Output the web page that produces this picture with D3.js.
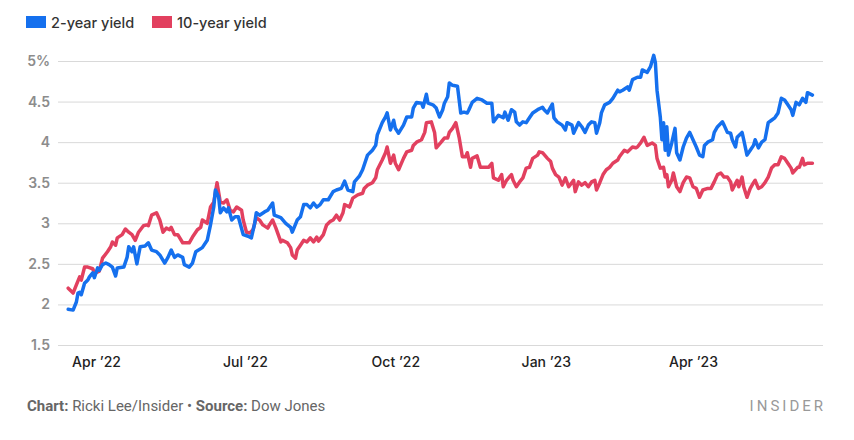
<!DOCTYPE html>
<html><head><meta charset="utf-8">
<script src="https://cdn.jsdelivr.net/npm/d3@7"></script>
<style>body{margin:0;background:#fff}svg{display:block}</style>
</head><body>
<svg id="chart" width="854" height="440"></svg>
<script>
const dates2y = ["2022-03-15","2022-03-18","2022-03-20","2022-03-21","2022-03-22","2022-03-23","2022-03-25","2022-03-27","2022-03-28","2022-03-30","2022-03-31","2022-04-02","2022-04-03","2022-04-05","2022-04-07","2022-04-09","2022-04-11","2022-04-13","2022-04-14","2022-04-18","2022-04-20","2022-04-21","2022-04-23","2022-04-24","2022-04-26","2022-04-28","2022-05-01","2022-05-03","2022-05-05","2022-05-08","2022-05-10","2022-05-13","2022-05-15","2022-05-17","2022-05-19","2022-05-21","2022-05-24","2022-05-25","2022-05-28","2022-05-30","2022-06-01","2022-06-05","2022-06-08","2022-06-10","2022-06-12","2022-06-13","2022-06-15","2022-06-16","2022-06-18","2022-06-20","2022-06-21","2022-06-23","2022-06-25","2022-06-27","2022-06-30","2022-07-03","2022-07-05","2022-07-07","2022-07-08","2022-07-10","2022-07-13","2022-07-15","2022-07-18","2022-07-19","2022-07-23","2022-07-26","2022-07-29","2022-07-30","2022-08-02","2022-08-04","2022-08-06","2022-08-08","2022-08-10","2022-08-12","2022-08-14","2022-08-16","2022-08-18","2022-08-21","2022-08-24","2022-08-26","2022-08-29","2022-08-31","2022-09-02","2022-09-05","2022-09-06","2022-09-09","2022-09-11","2022-09-14","2022-09-17","2022-09-19","2022-09-20","2022-09-23","2022-09-25","2022-09-26","2022-09-28","2022-09-30","2022-10-01","2022-10-03","2022-10-06","2022-10-08","2022-10-11","2022-10-12","2022-10-14","2022-10-17","2022-10-18","2022-10-20","2022-10-21","2022-10-24","2022-10-26","2022-10-28","2022-10-30","2022-10-31","2022-11-02","2022-11-03","2022-11-05","2022-11-08","2022-11-10","2022-11-12","2022-11-14","2022-11-15","2022-11-17","2022-11-20","2022-11-23","2022-11-26","2022-11-29","2022-11-30","2022-12-03","2022-12-06","2022-12-07","2022-12-09","2022-12-11","2022-12-13","2022-12-14","2022-12-16","2022-12-18","2022-12-20","2022-12-22","2022-12-24","2022-12-27","2022-12-30","2022-12-31","2023-01-02","2023-01-05","2023-01-06","2023-01-08","2023-01-11","2023-01-13","2023-01-14","2023-01-17","2023-01-18","2023-01-21","2023-01-23","2023-01-25","2023-01-27","2023-01-29","2023-01-31","2023-02-01","2023-02-03","2023-02-04","2023-02-06","2023-02-09","2023-02-11","2023-02-14","2023-02-15","2023-02-17","2023-02-20","2023-02-21","2023-02-23","2023-02-26","2023-02-28","2023-03-01","2023-03-04","2023-03-06","2023-03-08","2023-03-09","2023-03-10","2023-03-12","2023-03-13","2023-03-14","2023-03-15","2023-03-16","2023-03-17","2023-03-19","2023-03-21","2023-03-22","2023-03-24","2023-03-26","2023-03-28","2023-03-30","2023-04-01","2023-04-03","2023-04-05","2023-04-07","2023-04-08","2023-04-10","2023-04-13","2023-04-14","2023-04-16","2023-04-19","2023-04-20","2023-04-22","2023-04-24","2023-04-25","2023-04-27","2023-04-28","2023-05-01","2023-05-02","2023-05-04","2023-05-06","2023-05-08","2023-05-09","2023-05-11","2023-05-13","2023-05-15","2023-05-17","2023-05-19","2023-05-21","2023-05-23","2023-05-25","2023-05-27","2023-05-29","2023-05-31","2023-06-01","2023-06-03","2023-06-05","2023-06-07","2023-06-09","2023-06-10","2023-06-13"];
const yield2y = [1.94,1.93,2.03,2.14,2.15,2.12,2.26,2.30,2.34,2.39,2.33,2.45,2.42,2.49,2.51,2.49,2.46,2.35,2.45,2.46,2.58,2.71,2.65,2.71,2.50,2.71,2.72,2.76,2.67,2.65,2.61,2.51,2.58,2.67,2.58,2.61,2.58,2.49,2.46,2.51,2.65,2.70,2.79,2.98,3.20,3.41,3.32,3.13,3.19,3.14,3.19,3.04,3.08,3.08,2.86,2.84,2.82,3.00,3.13,3.10,3.14,3.16,3.25,3.10,3.07,3.00,2.95,2.89,3.04,3.08,3.23,3.23,3.19,3.25,3.20,3.23,3.29,3.29,3.39,3.41,3.43,3.52,3.41,3.39,3.51,3.58,3.66,3.84,3.90,3.96,4.09,4.24,4.31,4.36,4.15,4.27,4.17,4.11,4.21,4.31,4.31,4.42,4.49,4.48,4.43,4.59,4.48,4.46,4.42,4.31,4.40,4.48,4.56,4.73,4.70,4.69,4.36,4.37,4.36,4.40,4.49,4.54,4.52,4.48,4.48,4.25,4.33,4.30,4.37,4.27,4.40,4.37,4.25,4.21,4.25,4.24,4.30,4.36,4.40,4.43,4.40,4.36,4.47,4.30,4.25,4.21,4.15,4.24,4.21,4.11,4.24,4.19,4.12,4.21,4.25,4.24,4.11,4.24,4.36,4.46,4.49,4.54,4.64,4.62,4.64,4.68,4.64,4.77,4.80,4.80,4.89,4.86,4.93,5.07,4.98,4.64,4.31,4.03,4.24,3.90,4.19,3.84,3.99,4.17,3.87,3.78,3.94,4.05,4.12,4.03,3.94,3.84,3.82,3.96,4.00,4.03,4.12,4.19,4.25,4.21,4.12,4.11,4.03,3.94,4.06,4.12,4.03,3.84,3.90,3.96,4.03,3.93,4.00,4.03,4.24,4.27,4.30,4.36,4.54,4.52,4.46,4.40,4.33,4.49,4.46,4.54,4.49,4.61,4.58];

const dates10y = ["2022-03-15","2022-03-18","2022-03-20","2022-03-22","2022-03-23","2022-03-25","2022-03-27","2022-03-30","2022-03-31","2022-04-02","2022-04-03","2022-04-05","2022-04-08","2022-04-10","2022-04-11","2022-04-13","2022-04-14","2022-04-17","2022-04-19","2022-04-21","2022-04-23","2022-04-25","2022-04-27","2022-04-30","2022-05-02","2022-05-03","2022-05-05","2022-05-08","2022-05-10","2022-05-12","2022-05-14","2022-05-16","2022-05-17","2022-05-19","2022-05-21","2022-05-24","2022-05-27","2022-05-28","2022-05-30","2022-06-02","2022-06-04","2022-06-05","2022-06-08","2022-06-10","2022-06-12","2022-06-14","2022-06-16","2022-06-18","2022-06-20","2022-06-22","2022-06-24","2022-06-26","2022-06-29","2022-06-30","2022-07-02","2022-07-04","2022-07-06","2022-07-08","2022-07-10","2022-07-12","2022-07-15","2022-07-16","2022-07-18","2022-07-20","2022-07-23","2022-07-24","2022-07-27","2022-07-29","2022-07-30","2022-08-01","2022-08-02","2022-08-04","2022-08-06","2022-08-08","2022-08-10","2022-08-12","2022-08-14","2022-08-15","2022-08-18","2022-08-20","2022-08-22","2022-08-24","2022-08-26","2022-08-28","2022-08-30","2022-08-31","2022-09-03","2022-09-05","2022-09-08","2022-09-11","2022-09-12","2022-09-14","2022-09-17","2022-09-19","2022-09-20","2022-09-23","2022-09-25","2022-09-26","2022-09-28","2022-09-30","2022-10-01","2022-10-03","2022-10-06","2022-10-08","2022-10-11","2022-10-12","2022-10-14","2022-10-17","2022-10-19","2022-10-20","2022-10-23","2022-10-25","2022-10-26","2022-10-29","2022-10-31","2022-11-02","2022-11-03","2022-11-05","2022-11-07","2022-11-09","2022-11-11","2022-11-13","2022-11-14","2022-11-16","2022-11-17","2022-11-20","2022-11-22","2022-11-24","2022-11-27","2022-11-29","2022-11-30","2022-12-03","2022-12-05","2022-12-06","2022-12-08","2022-12-11","2022-12-12","2022-12-14","2022-12-16","2022-12-18","2022-12-20","2022-12-22","2022-12-24","2022-12-27","2022-12-28","2022-12-30","2023-01-02","2023-01-04","2023-01-05","2023-01-07","2023-01-09","2023-01-11","2023-01-13","2023-01-15","2023-01-18","2023-01-19","2023-01-21","2023-01-23","2023-01-25","2023-01-27","2023-01-29","2023-01-31","2023-02-01","2023-02-03","2023-02-05","2023-02-07","2023-02-09","2023-02-11","2023-02-14","2023-02-15","2023-02-18","2023-02-20","2023-02-23","2023-02-25","2023-02-26","2023-02-28","2023-03-02","2023-03-04","2023-03-07","2023-03-09","2023-03-10","2023-03-12","2023-03-14","2023-03-15","2023-03-16","2023-03-17","2023-03-19","2023-03-20","2023-03-22","2023-03-24","2023-03-26","2023-03-28","2023-03-30","2023-04-01","2023-04-03","2023-04-05","2023-04-07","2023-04-10","2023-04-12","2023-04-14","2023-04-16","2023-04-18","2023-04-20","2023-04-22","2023-04-24","2023-04-25","2023-04-28","2023-04-29","2023-05-01","2023-05-02","2023-05-04","2023-05-06","2023-05-08","2023-05-09","2023-05-11","2023-05-13","2023-05-15","2023-05-17","2023-05-19","2023-05-21","2023-05-23","2023-05-25","2023-05-27","2023-05-29","2023-05-31","2023-06-01","2023-06-04","2023-06-05","2023-06-07","2023-06-08","2023-06-10","2023-06-13"];
const yield10y = [2.20,2.14,2.24,2.34,2.30,2.46,2.46,2.44,2.39,2.40,2.41,2.57,2.65,2.71,2.77,2.73,2.82,2.86,2.93,2.89,2.86,2.79,2.89,2.97,2.98,2.97,3.10,3.13,3.04,2.89,2.94,2.92,2.95,2.86,2.86,2.76,2.76,2.76,2.83,2.92,2.95,3.04,3.00,3.20,3.26,3.50,3.26,3.25,3.29,3.16,3.14,3.20,3.16,3.04,2.89,2.88,2.92,3.07,3.04,2.98,2.94,2.98,3.04,2.94,2.77,2.79,2.76,2.70,2.61,2.57,2.67,2.73,2.79,2.77,2.82,2.77,2.83,2.78,2.86,2.98,3.02,3.04,3.10,3.04,3.13,3.23,3.20,3.31,3.35,3.37,3.43,3.47,3.50,3.56,3.66,3.78,3.87,3.94,3.74,3.84,3.74,3.66,3.80,3.88,3.90,3.96,4.00,4.03,4.12,4.24,4.25,4.12,3.93,4.00,4.05,4.05,4.12,4.17,4.24,4.06,3.82,3.82,3.87,3.69,3.80,3.83,3.69,3.69,3.69,3.74,3.56,3.53,3.60,3.45,3.53,3.60,3.53,3.45,3.51,3.56,3.68,3.69,3.80,3.84,3.88,3.87,3.80,3.76,3.68,3.60,3.57,3.47,3.56,3.45,3.53,3.39,3.51,3.47,3.50,3.45,3.51,3.53,3.41,3.50,3.60,3.66,3.69,3.74,3.78,3.82,3.90,3.88,3.94,3.93,3.94,3.99,4.06,3.96,3.99,3.96,3.80,3.68,3.69,3.57,3.60,3.45,3.53,3.62,3.45,3.39,3.50,3.57,3.56,3.45,3.43,3.32,3.41,3.43,3.43,3.51,3.60,3.62,3.57,3.57,3.51,3.41,3.53,3.45,3.57,3.45,3.32,3.43,3.50,3.53,3.43,3.45,3.50,3.57,3.68,3.72,3.72,3.82,3.80,3.74,3.68,3.62,3.69,3.69,3.80,3.72,3.74,3.74];

const seriesNames = ["2-year yield", "10-year yield"];
const seriesColors = ["#1570ee", "#e2405f"];
const yTicks = [1.5, 2, 2.5, 3, 3.5, 4, 4.5, 5];
const yTickLabels = ["1.5", "2", "2.5", "3", "3.5", "4", "4.5", "5%"];
const xTicks = ["2022-04-01", "2022-07-01", "2022-10-01", "2023-01-01", "2023-04-01"];
const xTickLabels = ["Apr \u201922", "Jul \u201922", "Oct \u201922", "Jan \u201923", "Apr \u201923"];

const parse = d3.timeParse("%Y-%m-%d");
const svg = d3.select("#chart");
const font = "Inter, 'Noto Sans', sans-serif";

const x = d3.scaleTime().domain([parse("2022-04-01"), parse("2023-04-01")]).range([96, 693]);
const y = d3.scaleLinear().domain([1.5, 5]).range([345, 61]);
const gridLeft = 58, gridRight = 823;

// y axis with gridlines
const yAxis = svg.append("g").attr("transform", `translate(${gridLeft},0)`)
  .call(d3.axisLeft(y).tickValues(yTicks).tickSize(-(gridRight - gridLeft)).tickPadding(8)
    .tickFormat((d, i) => yTickLabels[i]));
yAxis.select(".domain").remove();
yAxis.selectAll(".tick line").attr("stroke", "#d9d9d9").attr("stroke-width", 1);
yAxis.selectAll(".tick text").attr("fill", "#8c8c8c").attr("font-size", 14)
  .attr("font-family", font).attr("font-weight", 600);

// x axis labels
const xAxis = svg.append("g").attr("transform", `translate(0,345)`)
  .call(d3.axisBottom(x).tickValues(xTicks.map(parse)).tickSize(0).tickPadding(12)
    .tickFormat((d, i) => xTickLabels[i]));
xAxis.select(".domain").remove();
xAxis.selectAll(".tick text").attr("fill", "#222").attr("font-size", 14)
  .attr("font-family", font).attr("font-weight", 500);

// lines
const series = [
  {name: seriesNames[1], color: seriesColors[1], data: dates10y.map((d, i) => ({date: parse(d), v: yield10y[i]}))},
  {name: seriesNames[0], color: seriesColors[0], data: dates2y.map((d, i) => ({date: parse(d), v: yield2y[i]}))}
];
const line = d3.line().x(d => x(d.date)).y(d => y(d.v));
svg.append("g").selectAll("path").data(series).join("path")
  .attr("d", d => line(d.data)).attr("fill", "none").attr("stroke", d => d.color)
  .attr("stroke-width", 3.5).attr("stroke-linejoin", "round").attr("stroke-linecap", "round");

// legend
const legendX = [26, 152];
const lg = svg.append("g");
seriesNames.forEach((n, i) => {
  lg.append("rect").attr("x", legendX[i]).attr("y", 16).attr("width", 20).attr("height", 12).attr("fill", seriesColors[i]);
  lg.append("text").attr("x", legendX[i] + 25).attr("y", 28).text(n)
    .attr("font-family", font).attr("font-size", 14.5).attr("font-weight", 500).attr("fill", "#333");
});

// footer
const ft = svg.append("text").attr("x", 27).attr("y", 411).attr("font-family", "Roboto, sans-serif")
  .attr("font-size", 15).attr("fill", "#666");
ft.append("tspan").text("Chart:").attr("font-weight", 700);
ft.append("tspan").text(" Ricki Lee/Insider \u2022 ");
ft.append("tspan").text("Source:").attr("font-weight", 700);
ft.append("tspan").text(" Dow Jones");
svg.append("text").attr("x", 826).attr("y", 411).attr("text-anchor", "end")
  .attr("font-family", "Roboto, sans-serif").attr("font-size", 15).attr("letter-spacing", 3)
  .attr("fill", "#999").text("INSIDER");
</script>
</body></html>
